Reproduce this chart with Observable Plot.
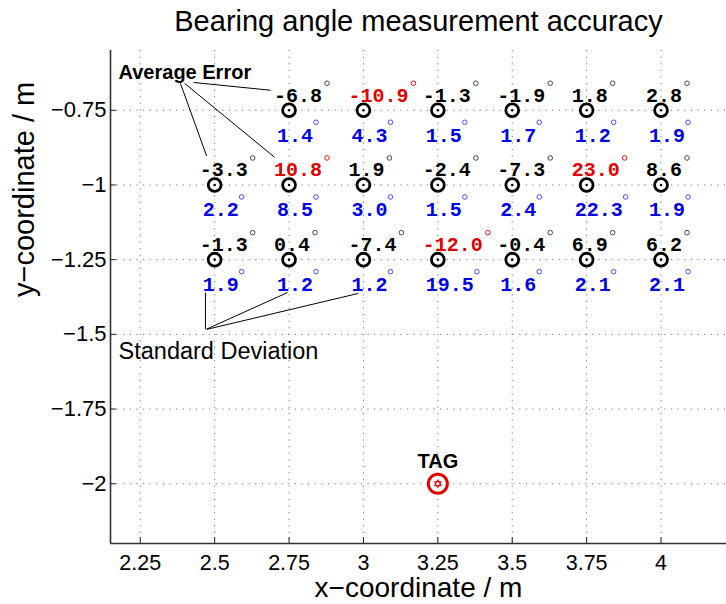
<!DOCTYPE html>
<html><head><meta charset="utf-8">
<script src="https://cdn.jsdelivr.net/npm/d3@7"></script>
<script src="https://cdn.jsdelivr.net/npm/@observablehq/plot@0.6"></script>
<style>body{margin:0;background:#fff} svg{display:block;background:#fff}</style>
</head><body><div id="chart"></div>
<script>
// ---- data ----
const rowY = [-0.75, -1, -1.25];
const rowX = [
  [2.75, 3, 3.25, 3.5, 3.75, 4],
  [2.5, 2.75, 3, 3.25, 3.5, 3.75, 4],
  [2.5, 2.75, 3, 3.25, 3.5, 3.75, 4]
];
const avgError = [
  [-6.8, -10.9, -1.3, -1.9, 1.8, 2.8],
  [-3.3, 10.8, 1.9, -2.4, -7.3, 23.0, 8.6],
  [-1.3, 0.4, -7.4, -12.0, -0.4, 6.9, 6.2]
];
const stdDev = [
  [1.4, 4.3, 1.5, 1.7, 1.2, 1.9],
  [2.2, 8.5, 3.0, 1.5, 2.4, 22.3, 1.9],
  [1.9, 1.2, 1.2, 19.5, 1.6, 2.1, 2.1]
];
const tagPos = [{x: 3.25, y: -2, label: "TAG"}];
const xTicks = [2.25, 2.5, 2.75, 3, 3.25, 3.5, 3.75, 4];
const yTicks = [-0.75, -1, -1.25, -1.5, -1.75, -2];
const xDomain = [2.15, 4.22];
const yDomain = [-2.2, -0.55];
const titleText = "Bearing angle measurement accuracy";
const xLabel = "x\u2212coordinate / m";
const yLabel = "y\u2212coordinate / m";
const avgNote = [{x: 2.177, y: -0.623, text: "Average Error"}];
const stdNote = [{x: 2.177, y: -1.557, text: "Standard Deviation"}];
const avgLeaders = [
  {x1: 2.429, y1: -0.657, x2: 2.688, y2: -0.683},
  {x1: 2.385, y1: -0.660, x2: 2.473, y2: -0.903},
  {x1: 2.399, y1: -0.660, x2: 2.701, y2: -0.907}
];
const stdLeaders = [
  {x1: 2.469, y1: -1.483, x2: 2.469, y2: -1.360},
  {x1: 2.472, y1: -1.483, x2: 2.745, y2: -1.360},
  {x1: 2.475, y1: -1.483, x2: 2.983, y2: -1.363}
];

// ---- table built from arrays ----
const points = [];
rowY.forEach((y, i) => rowX[i].forEach((x, j) => {
  const a = avgError[i][j], s = stdDev[i][j];
  const at = a.toFixed(1), st = s.toFixed(1);
  points.push({x, y, avg: a, std: s, avgText: at, stdText: st, avgLen: at.length, stdLen: st.length, big: Math.abs(a) >= 10});
}));

const hexagram = {
  draw(ctx, size) {
    const r = Math.sqrt(size / Math.PI);
    for (let k = 0; k < 2; k++) {
      for (let i = 0; i < 3; i++) {
        const a = -Math.PI / 2 + k * Math.PI + i * 2 * Math.PI / 3;
        const px = r * Math.cos(a), py = r * Math.sin(a);
        if (i === 0) ctx.moveTo(px, py); else ctx.lineTo(px, py);
      }
      ctx.closePath();
    }
  }
};

const RED = "#e00000", BLUE = "#0000e6";
const mono = "'Liberation Mono', 'Courier New', monospace";
const sans = "'Liberation Sans', Arial, Helvetica, sans-serif";
const fmt = d => String(d).replace("-", "\u2212");

const degMarks = [];
for (const L of [3, 4, 5]) {
  degMarks.push(Plot.dot(points.filter(d => d.avgLen === L), {
    x: "x", y: "y", r: 2.3, fill: "white", stroke: d => d.big ? RED : "#333", strokeWidth: 0.9,
    dx: 12 * L - 10, dy: -27
  }));
  degMarks.push(Plot.dot(points.filter(d => d.stdLen === L), {
    x: "x", y: "y", r: 2.3, fill: "white", stroke: "#3a3aff", strokeWidth: 0.9,
    dx: 12 * L - 9, dy: 12
  }));
}

const plot = Plot.plot({
  width: 726, height: 604,
  marginLeft: 110, marginRight: 0, marginTop: 50, marginBottom: 61,
  x: {domain: xDomain},
  y: {domain: yDomain},
  style: {fontFamily: sans, background: "white"},
  marks: [
    Plot.gridX(xTicks, {stroke: "#777", strokeOpacity: 1, strokeWidth: 1, strokeDasharray: "1.2,5.4"}),
    Plot.gridY(yTicks, {stroke: "#777", strokeOpacity: 1, strokeWidth: 1, strokeDasharray: "1.2,5.4"}),
    Plot.ruleY([yDomain[0]], {stroke: "#333", strokeWidth: 1.6}),
    Plot.ruleX([xDomain[0]], {stroke: "#333", strokeWidth: 1.6}),
    Plot.axisX(xTicks, {tickSize: -6, tickPadding: 17, fontSize: 21.5, tickFormat: fmt, stroke: "#222", fill: "black", label: null}),
    Plot.axisY(yTicks, {tickSize: -6, tickPadding: 10, fontSize: 22, tickFormat: fmt, stroke: "#222", fill: "black", label: null}),
    // labels
    Plot.text([titleText], {frameAnchor: "top", lineAnchor: "middle", dy: -29, fontSize: 29, fill: "black", fontFamily: sans}),
    Plot.text([xLabel], {frameAnchor: "bottom", lineAnchor: "middle", dy: 45, fontSize: 28, fill: "black", fontFamily: sans}),
    Plot.text([yLabel], {frameAnchor: "left", dx: -86, rotate: -90, fontSize: 29, fill: "black", fontFamily: sans}),
    // annotations
    Plot.link(avgLeaders, {x1: "x1", y1: "y1", x2: "x2", y2: "y2", stroke: "black", strokeWidth: 1}),
    Plot.link(stdLeaders, {x1: "x1", y1: "y1", x2: "x2", y2: "y2", stroke: "black", strokeWidth: 1}),
    Plot.text(avgNote, {x: "x", y: "y", text: "text", textAnchor: "start", fontSize: 20, fontWeight: "bold", fill: "black", fontFamily: sans}),
    Plot.text(stdNote, {x: "x", y: "y", text: "text", textAnchor: "start", fontSize: 23.5, fill: "black", fontFamily: sans}),
    // measurement markers
    Plot.dot(points, {x: "x", y: "y", r: 6.4, stroke: "black", strokeWidth: 2.8, fill: "white"}),
    Plot.dot(points, {x: "x", y: "y", r: 1.3, fill: "black"}),
    // value labels
    Plot.text(points, {x: "x", y: "y", text: "avgText", textAnchor: "start", dx: -15, dy: -15,
      fontFamily: mono, fontWeight: "bold", fontSize: 20, fill: d => d.big ? RED : "black"}),
    Plot.text(points, {x: "x", y: "y", text: "stdText", textAnchor: "start", dx: -12, dy: 25,
      fontFamily: mono, fontWeight: "bold", fontSize: 20, fill: BLUE}),
    ...degMarks,
    // tag
    Plot.dot(tagPos, {x: "x", y: "y", r: 9.5, stroke: RED, strokeWidth: 3, fill: "white"}),
    Plot.dot(tagPos, {x: "x", y: "y", r: 4, symbol: hexagram, stroke: RED, strokeWidth: 1, fill: "none"}),
    Plot.text(tagPos, {x: "x", y: "y", text: "label", dy: -22, fontSize: 20, fontWeight: "bold", fill: "black", fontFamily: sans})
  ]
});
document.getElementById("chart").appendChild(plot);
</script>
</body></html>
